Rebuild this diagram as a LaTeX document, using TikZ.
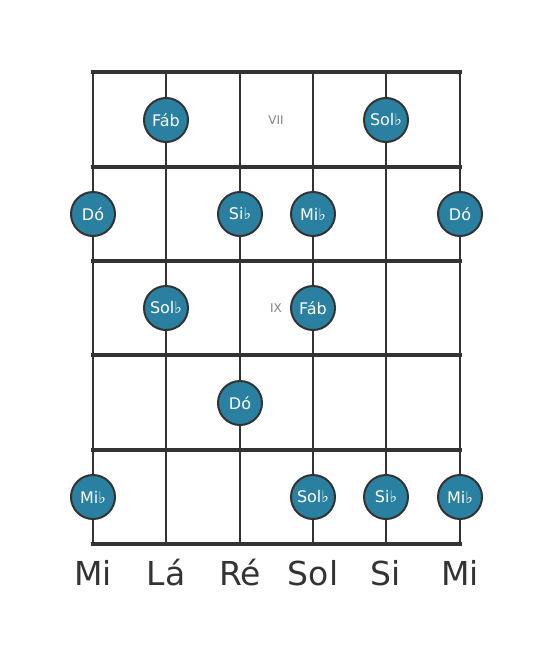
\documentclass[tikz,border=0pt]{standalone}
\usepackage{fontspec}
\setmainfont{DejaVu Sans}
\definecolor{notefill}{RGB}{42,128,160}
\definecolor{lineclr}{RGB}{51,51,51}
\definecolor{fretlbl}{RGB}{130,130,130}
\begin{document}
\begin{tikzpicture}[x=1pt,y=-1pt,
  stringline/.style={draw=lineclr,line width=2.6pt},
  fretline/.style={draw=lineclr,line width=4.5pt,line cap=rect},
  note/.style={circle,minimum size=44pt,inner sep=0pt,fill=notefill,draw=lineclr,line width=2pt,text=white,font=\fontsize{16}{16}\selectfont},
  fretnum/.style={text=fretlbl,font=\fontsize{12}{12}\selectfont},
  strname/.style={text=lineclr,font=\fontsize{33}{33}\selectfont,anchor=base}]
\useasboundingbox (0,0) rectangle (553,656);
% string endpoints
\foreach \i/\x in {1/93,2/166,3/240,4/313,5/386,6/460}{
  \coordinate (t\i) at (\x,72);
  \coordinate (b\i) at (\x,544);
  \draw[stringline] (t\i) -- (b\i);
}
% frets
\foreach \j/\y in {0/72,1/167,2/261,3/355,4/450,5/544}{
  \coordinate (fl\j) at (93,\y);
  \coordinate (fr\j) at (460,\y);
  \draw[fretline] (fl\j) -- (fr\j);
}
% fret numbers
\node[fretnum] (f7) at (276,120) {VII};
\node[fretnum] (f9) at (276,308) {IX};
% notes
\node[note] (n1) at (166,120) {Fáb};
\node[note] (n2) at (386,120) {Sol♭};
\node[note] (n3) at (93,214) {Dó};
\node[note] (n4) at (240,214) {Si♭};
\node[note] (n5) at (313,214) {Mi♭};
\node[note] (n6) at (460,214) {Dó};
\node[note] (n7) at (166,308) {Sol♭};
\node[note] (n8) at (313,308) {Fáb};
\node[note] (n9) at (240,403) {Dó};
\node[note] (n10) at (93,497) {Mi♭};
\node[note] (n11) at (313,497) {Sol♭};
\node[note] (n12) at (386,497) {Si♭};
\node[note] (n13) at (460,497) {Mi♭};
% string names
\node[strname] (s1) at (93,585) {Mi};
\node[strname] (s2) at (166,585) {Lá};
\node[strname] (s3) at (240,585) {Ré};
\node[strname] (s4) at (313,585) {Sol};
\node[strname] (s5) at (386,585) {Si};
\node[strname] (s6) at (460,585) {Mi};
\end{tikzpicture}
\end{document}
